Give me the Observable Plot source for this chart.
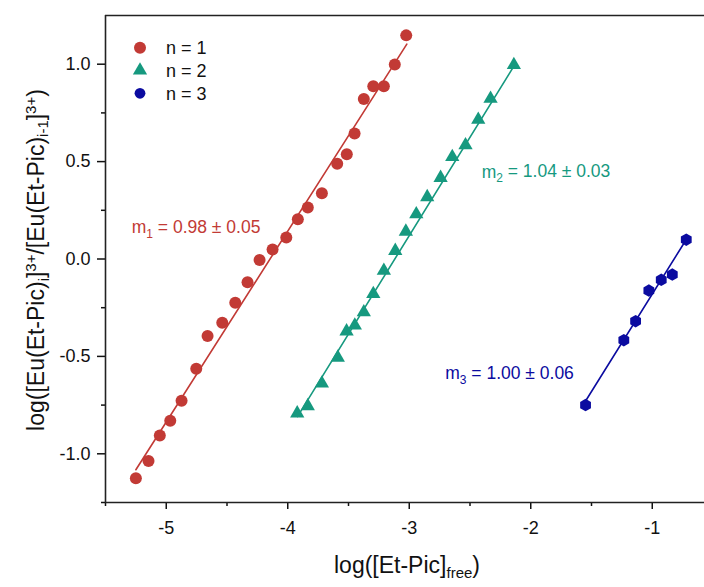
<!DOCTYPE html>
<html><head><meta charset="utf-8">
<script src="https://cdn.jsdelivr.net/npm/d3@7"></script>
<script src="https://cdn.jsdelivr.net/npm/@observablehq/plot@0.6"></script>
<style>html,body{margin:0;padding:0;background:#fff}</style>
</head><body><div id="chart"></div>
<script>
// ---- data ----
const seriesNames = ["n = 1", "n = 2", "n = 3"];
const seriesColors = ["#c23a35", "#16997f", "#0b0ba0"];
const seriesSymbols = ["circle", "triangle", "hexagon"];
const seriesR = [6, 5.3, 5.4];

const n1X = [-3.025,-3.119,-3.209,-3.296,-3.374,-3.450,-3.514,-3.593,-3.719,-3.835,-3.917,-4.012,-4.125,-4.232,-4.331,-4.432,-4.539,-4.660,-4.753,-4.874,-4.967,-5.053,-5.146,-5.250];
const n1Y = [1.148,0.998,0.887,0.887,0.821,0.644,0.538,0.489,0.337,0.264,0.204,0.110,0.049,-0.005,-0.119,-0.225,-0.327,-0.395,-0.564,-0.728,-0.830,-0.906,-1.037,-1.126];

const n2X = [-2.139,-2.331,-2.432,-2.537,-2.646,-2.742,-2.852,-2.942,-3.028,-3.115,-3.209,-3.296,-3.374,-3.448,-3.516,-3.588,-3.719,-3.835,-3.922];
const n2Y = [0.996,0.823,0.715,0.584,0.524,0.417,0.318,0.230,0.141,0.042,-0.060,-0.179,-0.273,-0.341,-0.371,-0.506,-0.639,-0.755,-0.792];

const n3X = [-0.720,-0.835,-0.926,-1.028,-1.137,-1.234,-1.549];
const n3Y = [0.099,-0.080,-0.107,-0.162,-0.319,-0.417,-0.750];

const fitSlope = [0.98, 1.01, 1.00];
const fitIntercept = [4.063, 3.15, 0.82];
const fitStart = [-5.25, -3.92, -1.55];
const fitEnd = [-3.02, -2.14, -0.72];

const slopeLabels = ["0.98 \u00b1 0.05", "1.04 \u00b1 0.03", "1.00 \u00b1 0.06"];
const labelX = [-5.28, -2.40, -2.70];
const labelY = [0.161, 0.448, -0.588];

const xTicks = [-5, -4, -3, -2, -1];
const xMinor = [-5.5, -4.5, -3.5, -2.5, -1.5];
const yTicks = [-1.0, -0.5, 0.0, 0.5, 1.0];
const yMinor = [-1.25, -0.75, -0.25, 0.25, 0.75];

// ---- build tables ----
const allX = [n1X, n2X, n3X];
const allY = [n1Y, n2Y, n3Y];
const points = seriesNames.map((s, i) => allX[i].map((x, j) => ({x, y: allY[i][j], s})));
const fits = seriesNames.map((s, i) => [fitStart[i], fitEnd[i]].map(x => ({x, y: fitSlope[i] * x + fitIntercept[i]})));

const FONT = "Liberation Sans, Arial, Helvetica, sans-serif";
const marks = [];
fits.forEach((f, i) => marks.push(Plot.line(f, {x: "x", y: "y", stroke: seriesColors[i], strokeWidth: 1.6})));
points.forEach((p, i) => marks.push(Plot.dot(p, {x: "x", y: "y", fill: seriesColors[i], stroke: "none", symbol: seriesSymbols[i], r: seriesR[i]})));
marks.push(
  Plot.axisX({ticks: xTicks, tickSize: 7, tickPadding: 12, tickFormat: d => String(d), label: null, fontSize: 18, strokeWidth: 1.5}),
  Plot.axisX({ticks: xMinor, tickSize: 4, tickFormat: () => "", label: null, strokeWidth: 1.5}),
  Plot.axisY({ticks: yTicks, tickSize: 8, tickPadding: 7, tickFormat: d => d.toFixed(1), label: null, fontSize: 18, strokeWidth: 1.5}),
  Plot.axisY({ticks: yMinor, tickSize: 4, tickFormat: () => "", label: null, strokeWidth: 1.5}),
  Plot.ruleX([-5.5], {stroke: "#222", strokeWidth: 1.6}),
  Plot.ruleY([-1.25], {stroke: "#222", strokeWidth: 1.6}),
  Plot.ruleY([1.25], {stroke: "#222", strokeWidth: 1.6})
);

const plot = Plot.plot({
  width: 704, height: 587,
  marginLeft: 105, marginRight: 0, marginTop: 15, marginBottom: 85,
  x: {domain: [-5.5, -0.57]},
  y: {domain: [-1.25, 1.25]},
  style: {fontFamily: FONT, fontSize: "18px", color: "#111", background: "white", overflow: "visible"},
  marks
});
document.getElementById("chart").appendChild(plot);

// ---- text with sub/superscripts, placed through the plot's scales ----
const svg = d3.select(plot);
const sx = plot.scale("x"), sy = plot.scale("y");

slopeLabels.forEach((lab, i) => {
  const t = svg.append("text")
    .attr("x", sx.apply(labelX[i])).attr("y", sy.apply(labelY[i]))
    .attr("dy", "0.36em").attr("text-anchor", "start")
    .attr("fill", seriesColors[i]).attr("font-size", 17.5).attr("font-family", FONT);
  t.append("tspan").text("m");
  t.append("tspan").attr("font-size", 12).attr("dy", "0.35em").text(String(i + 1));
  t.append("tspan").attr("dy", "-0.25em").text(" = " + lab);
});

// legend
const legX = 140, legY0 = 47.7, legStep = 22.8;
const symType = {circle: d3.symbolCircle, triangle: d3.symbolTriangle, hexagon: d3.symbolHexagon || d3.symbolCircle};
seriesNames.forEach((nm, i) => {
  const y = legY0 + i * legStep;
  svg.append("path")
    .attr("d", d3.symbol().type(symType[seriesSymbols[i]]).size(Math.PI * seriesR[i] * seriesR[i])())
    .attr("transform", `translate(${legX},${y})`)
    .attr("fill", seriesColors[i]);
  svg.append("text").attr("x", 166).attr("y", y).attr("dy", "0.36em").attr("text-anchor", "start")
    .attr("font-size", 18).attr("font-family", FONT).attr("fill", "#111").text(nm);
});

// x-axis title
const xt = svg.append("text").attr("x", 407).attr("y", 573).attr("text-anchor", "middle")
  .attr("font-size", 23).attr("font-family", FONT).attr("fill", "#111");
xt.append("tspan").text("log([Et-Pic]");
xt.append("tspan").attr("font-size", 15).attr("dy", "0.3em").text("free");
xt.append("tspan").attr("dy", "-0.2em").text(")");

// y-axis title
const yt = svg.append("text").attr("transform", "translate(44,260) rotate(-90)").attr("text-anchor", "middle")
  .attr("font-size", 23).attr("font-family", FONT).attr("fill", "#111");
yt.append("tspan").text("log([Eu(Et-Pic)");
yt.append("tspan").attr("font-size", 15).attr("dy", "0.3em").text("i");
yt.append("tspan").attr("dy", "-0.2em").text("]");
yt.append("tspan").attr("font-size", 15).attr("dy", "-0.55em").text("3+");
yt.append("tspan").attr("font-size", 23).attr("dy", "0.36em").text("/[Eu(Et-Pic)");
yt.append("tspan").attr("font-size", 15).attr("dy", "0.3em").text("i-1");
yt.append("tspan").attr("dy", "-0.2em").text("]");
yt.append("tspan").attr("font-size", 15).attr("dy", "-0.55em").text("3+");
yt.append("tspan").attr("dy", "0.36em").text(")");
</script>
</body></html>
